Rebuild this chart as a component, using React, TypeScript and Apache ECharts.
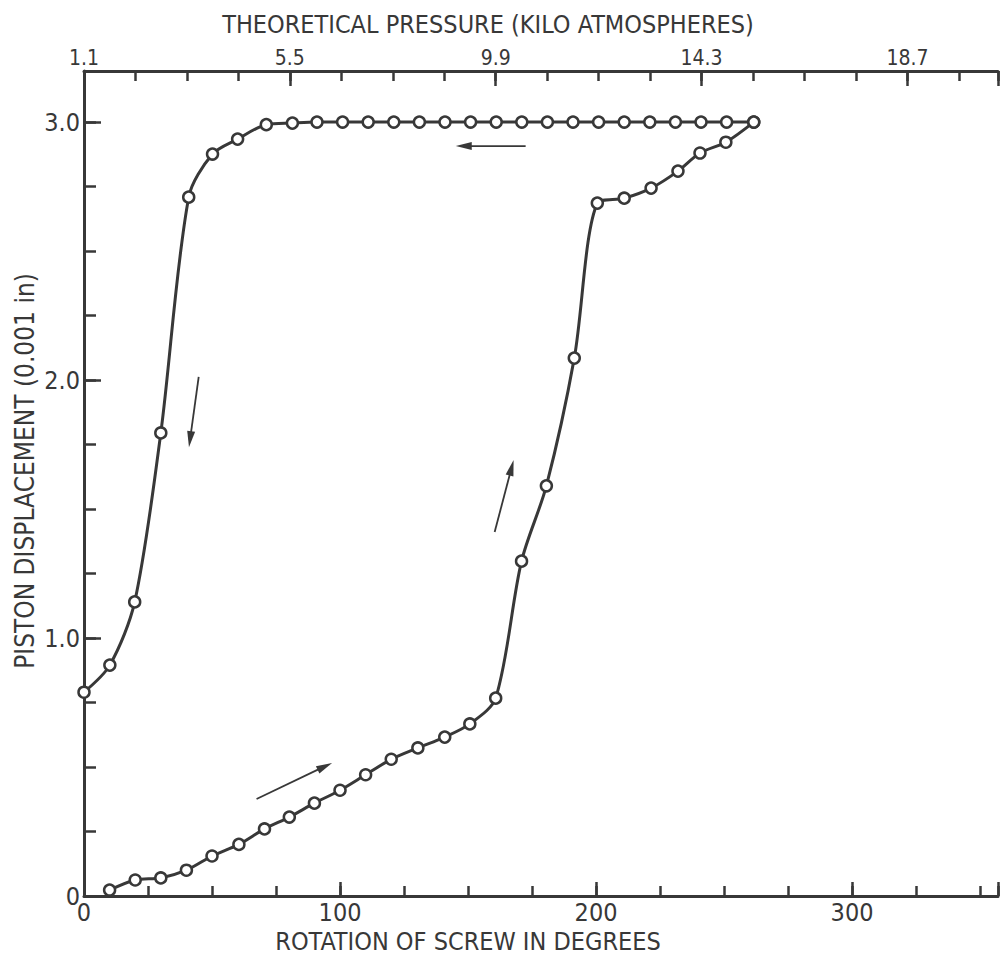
import React, { useEffect, useRef } from 'react';
import * as echarts from 'echarts';

// Loading branch (rotation in degrees, piston displacement in 0.001 in)
const loadDeg = [10, 20, 30, 40, 50, 60.5, 70.5, 80.2, 90, 100, 110, 120, 130.4, 140.9, 150.7, 160.8, 170.9, 180.6, 191.5, 200.5, 211, 221.5, 232, 240.6, 250.7, 261.6];
const loadDisp = [0.023, 0.062, 0.07, 0.1, 0.155, 0.2, 0.26, 0.306, 0.36, 0.41, 0.47, 0.53, 0.574, 0.616, 0.667, 0.767, 1.298, 1.59, 2.085, 2.686, 2.705, 2.744, 2.81, 2.88, 2.922, 3.0];

// Unloading branch
const unloadDeg = [261.6, 251, 241, 231, 221, 211, 201, 191, 181, 171, 161, 151, 141, 131, 121, 111, 101, 91, 81.4, 71.2, 60, 50.2, 40.9, 30, 19.8, 10.1, 0];
const unloadDisp = [3.0, 3.0, 3.0, 3.0, 3.0, 3.0, 3.0, 3.0, 3.0, 3.0, 3.0, 3.0, 3.0, 3.0, 3.0, 3.0, 3.0, 3.0, 2.996, 2.99, 2.934, 2.876, 2.709, 1.795, 1.14, 0.895, 0.79];

// Direction arrows [from, to] in data coordinates
const arrowFrom = [[67.4, 0.376], [172.5, 2.907], [160.4, 1.411], [44.8, 2.012]];
const arrowTo = [[96.9, 0.516], [145.2, 2.907], [167.8, 1.69], [41.0, 1.74]];

const bottomTickValues = [0, 100, 200, 300];
const bottomTickLabels = ['0', '100', '200', '300'];
const leftTickValues = [0, 1, 2, 3];
const leftTickLabels = ['0', '1.0', '2.0', '3.0'];
const topTickIndex = [0, 4, 8, 12, 16];
const topTickLabels = ['1.1', '5.5', '9.9', '14.3', '18.7'];

const INK = '#383838';
const FONT = "'Liberation Sans Narrow', 'DejaVu Sans Condensed', 'Roboto Condensed', 'Arial Narrow', sans-serif";

const X_MAX = 357;
const Y_MAX = 3.198;
const TOP_MAX = 17.76;

function pick(values: number[], labels: string[]) {
  return (v: number) => {
    for (let i = 0; i < values.length; i++) {
      if (Math.abs(v - values[i]) < 1e-6) return labels[i];
    }
    return '';
  };
}

export default function App() {
  const ref = useRef<HTMLDivElement>(null);
  useEffect(() => {
    if (!ref.current) return;
    const chart = echarts.init(ref.current, null, { renderer: 'svg' });
    const lineAxis = { show: true, lineStyle: { color: INK, width: 3 } };
    const labelBase = { color: INK, fontFamily: FONT };
    const texts: any[] = [
      {
        type: 'text', x: 488, y: 24,
        style: { text: 'THEORETICAL PRESSURE (KILO ATMOSPHERES)', fill: INK, font: `25px ${FONT}`, align: 'center', verticalAlign: 'middle' },
      },
      {
        type: 'text', x: 468, y: 941,
        style: { text: 'ROTATION OF SCREW IN DEGREES', fill: INK, font: `25px ${FONT}`, align: 'center', verticalAlign: 'middle' },
      },
      {
        type: 'text', x: 25, y: 471, rotation: Math.PI / 2,
        style: { text: 'PISTON DISPLACEMENT (0.001 in)', fill: INK, font: `26px ${FONT}`, align: 'center', verticalAlign: 'middle' },
      },
    ];
    const seriesBase = {
      type: 'line', xAxisIndex: 0, yAxisIndex: 0,
      smooth: 0.3,
      symbol: 'circle', symbolSize: 11,
      lineStyle: { color: INK, width: 3 },
      itemStyle: { color: '#ffffff', borderColor: INK, borderWidth: 2.5 },
      silent: true,
    };
    const option: any = {
      animation: false,
      backgroundColor: '#ffffff',
      grid: { left: 84, right: 0, top: 71, bottom: 64, containLabel: false },
      xAxis: [
        {
          type: 'value', position: 'bottom', min: 0, max: X_MAX, interval: 25,
          axisLine: lineAxis,
          axisTick: { show: true, inside: true, length: 10, lineStyle: { color: INK, width: 2.5 } },
          axisLabel: { show: false }, splitLine: { show: false },
        },
        {
          type: 'value', position: 'bottom', min: 0, max: X_MAX, interval: 100,
          axisLine: { show: false },
          axisTick: { show: true, inside: true, length: 14, lineStyle: { color: INK, width: 2.5 } },
          axisLabel: { show: true, ...labelBase, fontSize: 25, margin: 4, formatter: pick(bottomTickValues, bottomTickLabels) },
          splitLine: { show: false },
        },
        {
          type: 'value', position: 'top', min: 0, max: TOP_MAX, interval: 1,
          axisLine: lineAxis,
          axisTick: { show: true, inside: true, length: 10, lineStyle: { color: INK, width: 2.5 } },
          axisLabel: { show: false }, splitLine: { show: false },
        },
        {
          type: 'value', position: 'top', min: 0, max: TOP_MAX, interval: 4,
          axisLine: { show: false },
          axisTick: { show: true, inside: true, length: 15, lineStyle: { color: INK, width: 2.5 } },
          axisLabel: { show: true, ...labelBase, fontSize: 21, margin: 3, formatter: pick(topTickIndex, topTickLabels) },
          splitLine: { show: false },
        },
      ],
      yAxis: [
        {
          type: 'value', position: 'left', min: 0, max: Y_MAX, interval: 0.25,
          axisLine: lineAxis,
          axisTick: { show: true, inside: true, length: 12, lineStyle: { color: INK, width: 2.5 } },
          axisLabel: { show: false }, splitLine: { show: false },
        },
        {
          type: 'value', position: 'left', min: 0, max: Y_MAX, interval: 1,
          axisLine: { show: false },
          axisTick: { show: true, inside: true, length: 17, lineStyle: { color: INK, width: 2.5 } },
          axisLabel: { show: true, ...labelBase, fontSize: 25, margin: 4, formatter: pick(leftTickValues, leftTickLabels) },
          splitLine: { show: false },
        },
      ],
      series: [
        { ...seriesBase, data: loadDeg.map((d, i) => [d, loadDisp[i]]) },
        { ...seriesBase, data: unloadDeg.map((d, i) => [d, unloadDisp[i]]) },
      ],
      graphic: texts,
    };
    chart.setOption(option);

    // Arrows placed through the axes' own scales
    const arrows: any[] = [];
    const HEAD_LEN = 16;
    const HEAD_HALF = 4;
    arrowFrom.forEach((f, i) => {
      const a = chart.convertToPixel({ xAxisIndex: 0, yAxisIndex: 0 }, f) as number[];
      const b = chart.convertToPixel({ xAxisIndex: 0, yAxisIndex: 0 }, arrowTo[i]) as number[];
      const dx = b[0] - a[0];
      const dy = b[1] - a[1];
      const len = Math.sqrt(dx * dx + dy * dy) || 1;
      const ux = dx / len;
      const uy = dy / len;
      const bx = b[0] - ux * HEAD_LEN;
      const by = b[1] - uy * HEAD_LEN;
      arrows.push({
        type: 'line', silent: true,
        shape: { x1: a[0], y1: a[1], x2: bx + ux * 2, y2: by + uy * 2 },
        style: { stroke: INK, lineWidth: 1.8 },
      });
      arrows.push({
        type: 'polygon', silent: true,
        shape: { points: [[b[0], b[1]], [bx - uy * HEAD_HALF, by + ux * HEAD_HALF], [bx + uy * HEAD_HALF, by - ux * HEAD_HALF]] },
        style: { fill: INK },
      });
    });
    chart.setOption({ graphic: [...texts, ...arrows] });
    return () => chart.dispose();
  }, []);
  return <div ref={ref} style={{ position: 'absolute', left: 0, top: 0, width: 1001, height: 960 }} />;
}
